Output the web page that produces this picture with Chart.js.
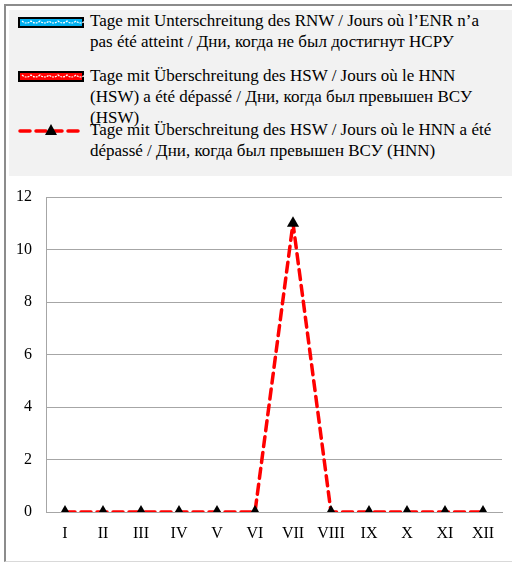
<!DOCTYPE html>
<html>
<head>
<meta charset="utf-8">
<script src="https://cdn.jsdelivr.net/npm/chart.js@4/dist/chart.umd.min.js"></script>
<style>
  html, body { margin: 0; padding: 0; background: #fff; }
  #wrap { position: relative; width: 512px; height: 562px; overflow: hidden; }
  #frame { position: absolute; left: 4px; top: 4px; width: 520px; height: 555px;
           border-left: 2px solid #8c8c8c; border-top: 2px solid #8c8c8c; border-bottom: 1px solid #d9d9d9; }
  #legend { position: absolute; left: 9px; top: 10px; width: 503px; height: 166px; background: #f2f2f2; }
  .item { position: absolute; left: 81px; width: 430px; font-family: "Liberation Serif", "Times New Roman", serif;
          font-size: 17px; line-height: 21px; color: #000; white-space: nowrap; }
  .sym { position: absolute; left: 9px; }
  canvas { position: absolute; left: 0; top: 0; }
</style>
</head>
<body>
<div id="wrap">
  <div id="frame"></div>
  <div id="legend">
    <svg class="sym" style="top:7px" width="66" height="11" viewBox="0 0 66 11">
      <rect x="1" y="1" width="64" height="9" fill="#00b0f0" stroke="#000" stroke-width="2"/>
      <path d="M4 4 q4.5 4 9 0 q4.5 4 9 0 q4.5 4 9 0 q4.5 4 9 0 q4.5 4 9 0 q4.5 4 9 0 q4.5 4 9 0" fill="none" stroke="#fff" stroke-width="1.2" stroke-dasharray="2 1"/>
    </svg>
    <div class="item" id="l1" style="top:0px"></div>
    <svg class="sym" style="top:61px" width="66" height="11" viewBox="0 0 66 11">
      <rect x="1" y="1" width="64" height="9" fill="#ff0000" stroke="#000" stroke-width="2"/>
      <path d="M4 4 q4.5 4 9 0 q4.5 4 9 0 q4.5 4 9 0 q4.5 4 9 0 q4.5 4 9 0 q4.5 4 9 0 q4.5 4 9 0" fill="none" stroke="#fff" stroke-width="1.2" stroke-dasharray="2 1"/>
    </svg>
    <div class="item" id="l2" style="top:55px"></div>
    <svg class="sym" style="top:113px" width="64" height="16" viewBox="0 0 64 16">
      <line x1="2" y1="8" x2="62" y2="8" stroke="#ff0000" stroke-width="3.5" stroke-dasharray="10 6" stroke-linecap="round"/>
      <polygon points="33,1 39,12 27,12" fill="#000"/>
    </svg>
    <div class="item" id="l3" style="top:109px"></div>
  </div>
  <canvas id="c" width="512" height="562"></canvas>
</div>
<script>
const categories = ["I","II","III","IV","V","VI","VII","VIII","IX","X","XI","XII"];
const seriesNames = [
  "Tage mit Unterschreitung des RNW / Jours où l’ENR n’a pas été atteint / Дни, когда не был достигнут НСРУ",
  "Tage mit Überschreitung des HSW / Jours où le HNN (HSW) a été dépassé / Дни, когда был превышен ВСУ (HSW)",
  "Tage mit Überschreitung des HSW / Jours où le HNN a été dépassé / Дни, когда был превышен ВСУ (HNN)"
];
const legendLines = [
  ["Tage mit Unterschreitung des RNW / Jours où l’ENR n’a", "pas été atteint / Дни, когда не был достигнут НСРУ"],
  ["Tage mit Überschreitung des HSW / Jours où le HNN", "(HSW) a été dépassé / Дни, когда был превышен ВСУ", "(HSW)"],
  ["Tage mit Überschreitung des HSW / Jours où le HNN a été", "dépassé / Дни, когда был превышен ВСУ (HNN)"]
];
const daysBelowRNW = [0,0,0,0,0,0,0,0,0,0,0,0];
const daysAboveHSW = [0,0,0,0,0,0,0,0,0,0,0,0];
const daysAboveHNN = [0,0,0,0,0,0,11,0,0,0,0,0];
const yTicks = [0,2,4,6,8,10,12];

["l1","l2","l3"].forEach((id, i) => {
  const el = document.getElementById(id);
  legendLines[i].forEach((line, j) => {
    if (j) el.appendChild(document.createElement('br'));
    el.appendChild(document.createTextNode(line));
  });
});

const font = { family: "'Liberation Serif', 'Times New Roman', serif", size: 16 };
const gridColor = '#a6a6a6';

new Chart(document.getElementById('c'), {
  type: 'bar',
  data: {
    labels: categories,
    datasets: [
      { label: seriesNames[0], data: daysBelowRNW, backgroundColor: '#00b0f0', borderColor: '#000', borderWidth: 0, order: 2 },
      { label: seriesNames[1], data: daysAboveHSW, backgroundColor: '#ff0000', borderColor: '#000', borderWidth: 0, order: 2 },
      { type: 'line', label: seriesNames[2], data: daysAboveHNN, borderColor: '#ff0000', borderWidth: 3.5,
        borderDash: [10, 6], borderCapStyle: 'round', borderJoinStyle: 'round', tension: 0, fill: false,
        pointStyle: 'triangle', pointRadius: 7, pointBackgroundColor: '#000', pointBorderColor: '#000', pointBorderWidth: 0,
        order: 1 }
    ]
  },
  options: {
    responsive: false,
    animation: false,
    layout: { padding: { left: 0, right: 10, top: 197, bottom: 0 } },
    plugins: { legend: { display: false }, tooltip: { enabled: false } },
    scales: {
      x: {
        offset: true,
        grid: { display: false, drawTicks: false },
        border: { display: true, color: gridColor, width: 1 },
        ticks: { color: '#000', font: font, padding: 12, maxRotation: 0, autoSkip: false },
        afterFit(s) { s.height = 50; }
      },
      y: {
        min: 0, max: 12,
        afterBuildTicks(s) { s.ticks = yTicks.map(v => ({ value: v })); },
        grid: { color: gridColor, lineWidth: 1, drawTicks: false },
        border: { display: true, color: gridColor, width: 1 },
        ticks: { color: '#000', font: font, padding: 14 },
        afterFit(s) { s.width = 46; }
      }
    }
  }
});
</script>
</body>
</html>
